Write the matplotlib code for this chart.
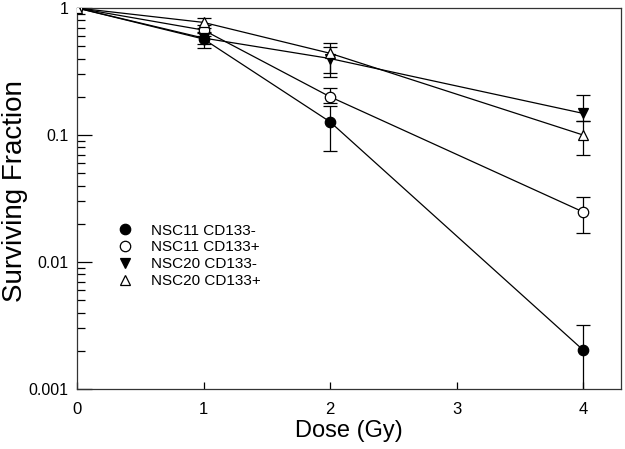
import numpy as np
import matplotlib.pyplot as plt
from matplotlib.lines import Line2D

plt.rcParams['font.family'] = ['Liberation Sans', 'DejaVu Sans']

# Dose points (Gy)
dose = [0, 1, 2, 4]

# Surviving fraction with lower / upper error bounds
nsc11_neg = [1.0, 0.57, 0.127, 0.00203]
nsc11_neg_lo = [1.0, 0.48, 0.075, 0.0008]
nsc11_neg_hi = [1.0, 0.65, 0.17, 0.0032]

nsc11_pos = [1.0, 0.67, 0.20, 0.0248]
nsc11_pos_lo = [1.0, 0.60, 0.18, 0.017]
nsc11_pos_hi = [1.0, 0.73, 0.235, 0.0325]

nsc20_neg = [1.0, 0.58, 0.40, 0.148]
nsc20_neg_lo = [1.0, 0.52, 0.286, 0.129]
nsc20_neg_hi = [1.0, 0.64, 0.49, 0.205]

nsc20_pos = [1.0, 0.77, 0.44, 0.10]
nsc20_pos_lo = [1.0, 0.70, 0.31, 0.07]
nsc20_pos_hi = [1.0, 0.84, 0.53, 0.13]

labels = ['NSC11 CD133-', 'NSC11 CD133+', 'NSC20 CD133-', 'NSC20 CD133+']
markers = ['o', 'o', 'v', '^']
faces = ['black', 'white', 'black', 'white']

series = [
    (nsc11_neg, nsc11_neg_lo, nsc11_neg_hi),
    (nsc11_pos, nsc11_pos_lo, nsc11_pos_hi),
    (nsc20_neg, nsc20_neg_lo, nsc20_neg_hi),
    (nsc20_pos, nsc20_pos_lo, nsc20_pos_hi),
]

fig = plt.figure(figsize=(6.25, 4.49), dpi=100)
ax = fig.add_axes([0.1232, 0.1336, 0.8704, 0.8486])

for (y, lo, hi), m, fc in zip(series, markers, faces):
    y = np.array(y)
    err = [y - np.array(lo), np.array(hi) - y]
    ax.errorbar(dose, y, yerr=err, fmt='none', ecolor='black',
                elinewidth=0.9, capsize=5, capthick=0.9, zorder=2)
    ax.plot(dose, y, color='black', lw=0.9, zorder=3)
    ax.plot(dose, y, linestyle='none', marker=m, markersize=7.5,
            markerfacecolor=fc, markeredgecolor='black', markeredgewidth=0.9,
            zorder=4)

ax.set_yscale('log')
ax.set_ylim(0.001, 1)
ax.set_xlim(0, 4.3)
ax.set_xticks([0, 1, 2, 3, 4])
ax.set_yticks([0.001, 0.01, 0.1, 1])
ax.set_yticklabels(['0.001', '0.01', '0.1', '1'])

ax.tick_params(axis='x', direction='in', length=5, width=0.9, labelsize=12, pad=9)
ax.tick_params(axis='y', which='major', direction='in', length=11, width=0.9,
               labelsize=11.5, pad=6)
ax.tick_params(axis='y', which='minor', direction='in', length=6, width=0.9)
for s in ax.spines.values():
    s.set_linewidth(0.9)
    s.set_color('#333333')

ax.set_xlabel('Dose (Gy)', fontsize=17)
ax.set_ylabel('Surviving Fraction', fontsize=20)
ax.xaxis.set_label_coords(0.5, -0.082)
ax.yaxis.set_label_coords(-0.09, 0.52)

handles = [Line2D([], [], linestyle='none', marker=m, markersize=7.5,
                  markerfacecolor=fc, markeredgecolor='black', markeredgewidth=0.9)
           for m, fc in zip(markers, faces)]
ax.legend(handles, labels, loc='upper left', bbox_to_anchor=(0.06, 0.45),
          frameon=False, fontsize=11, handletextpad=1.1, labelspacing=0.18,
          handlelength=1.2, borderaxespad=0)

fig.savefig('out.png', dpi=100)
